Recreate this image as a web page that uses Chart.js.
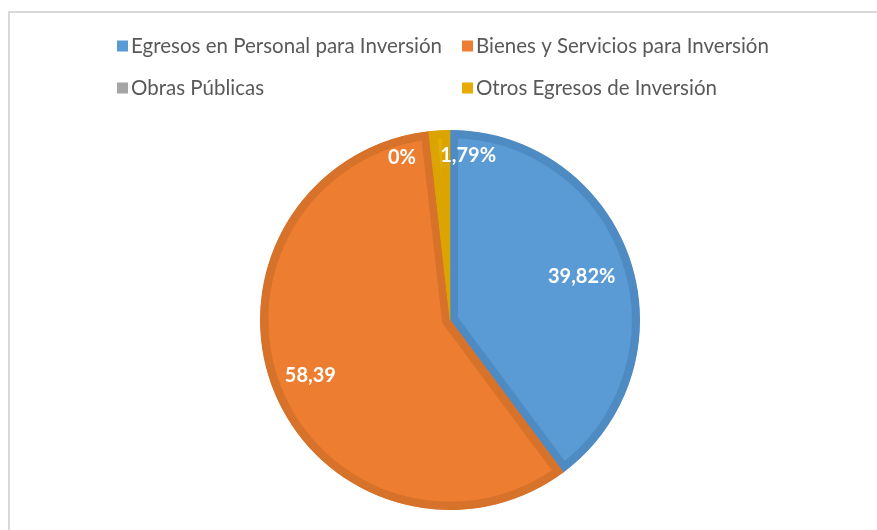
<!DOCTYPE html>
<html>
<head>
<meta charset="utf-8">
<script src="https://cdn.jsdelivr.net/npm/chart.js@4.4.1/dist/chart.umd.min.js"></script>
<style>
  html, body { margin: 0; padding: 0; background: #fff; }
  #wrap { position: relative; width: 877px; height: 530px; overflow: hidden; }
  #frame { position: absolute; left: 8px; top: 11px; width: 900px; height: 600px; border: 2px solid #d9d9d9; }
  #myChart { position: absolute; left: 0; top: 0; }
</style>
</head>
<body>
<div id="wrap">
  <div id="frame"></div>
  <canvas id="myChart" width="877" height="530"></canvas>
</div>
<script>
// categorias y valores (%)
var categorias = ["Egresos en Personal para Inversión", "Bienes y Servicios para Inversión", "Obras Públicas", "Otros Egresos de Inversión"];
var valores = [39.82, 58.39, 0, 1.79];
var etiquetas = ["39,82%", "58,39", "0%", "1,79%"];

var colores = ["#5b9bd5", "#ed7d31", "#a5a5a5", "#e6ac00"];
var bordes = ["#4f8bc3", "#d7722b", "#959595", "#dba400"];

// posicion de las etiquetas: angulo desde arriba (grados) y fraccion del radio; null = centro del sector
var posEtiquetas = [null, {f: 0.79}, {ang: 343.5, f: 0.89}, {ang: 6.3, f: 0.87}];

const legendGrid = {
    id: "legendGrid",
    afterDraw(chart) {
        const ctx = chart.ctx;
        const cols = [117, 462];
        const rows = [46, 88];
        ctx.save();
        ctx.font = "20.5px Lato";
        ctx.textBaseline = "middle";
        for (let i = 0; i < categorias.length; i++) {
            let x = cols[i % 2];
            let y = rows[Math.floor(i / 2)];
            ctx.fillStyle = colores[i];
            ctx.fillRect(x, y - 5.5, 11, 11);
            ctx.fillStyle = "#595959";
            ctx.fillText(categorias[i], x + 14, y);
        }
        ctx.restore();
    }
};

const pieLabels = {
    id: "pieLabels",
    afterDatasetsDraw(chart) {
        const ctx = chart.ctx;
        const meta = chart.getDatasetMeta(0);
        ctx.save();
        ctx.font = "bold 20px Lato";
        ctx.fillStyle = "#ffffff";
        ctx.textAlign = "center";
        ctx.textBaseline = "middle";
        meta.data.forEach(function (arc, i) {
            const p = arc.getProps(["x", "y", "startAngle", "endAngle", "outerRadius"], true);
            const pos = posEtiquetas[i] || {};
            let a = pos.ang !== undefined ? (pos.ang - 90) * Math.PI / 180 : (p.startAngle + p.endAngle) / 2;
            let f = pos.f || 0.73;
            let x = p.x + Math.cos(a) * p.outerRadius * f;
            let y = p.y + Math.sin(a) * p.outerRadius * f;
            ctx.fillText(etiquetas[i], x, y);
        });
        ctx.restore();
    }
};

function graph() {
    window.myChart = new Chart("myChart", {
        type: "pie",
        data: {
            labels: categorias,
            datasets: [{
                data: valores,
                backgroundColor: colores,
                borderColor: bordes,
                borderWidth: 8,
                borderAlign: "inner"
            }]
        },
        options: {
            responsive: false,
            animation: false,
            layout: {
                padding: { top: 130, bottom: 20, left: 260, right: 237 }
            },
            plugins: {
                legend: { display: false },
                tooltip: { enabled: false }
            }
        },
        plugins: [legendGrid, pieLabels]
    });
}
document.addEventListener("DOMContentLoaded", () => {
    graph();
});
</script>
</body>
</html>
